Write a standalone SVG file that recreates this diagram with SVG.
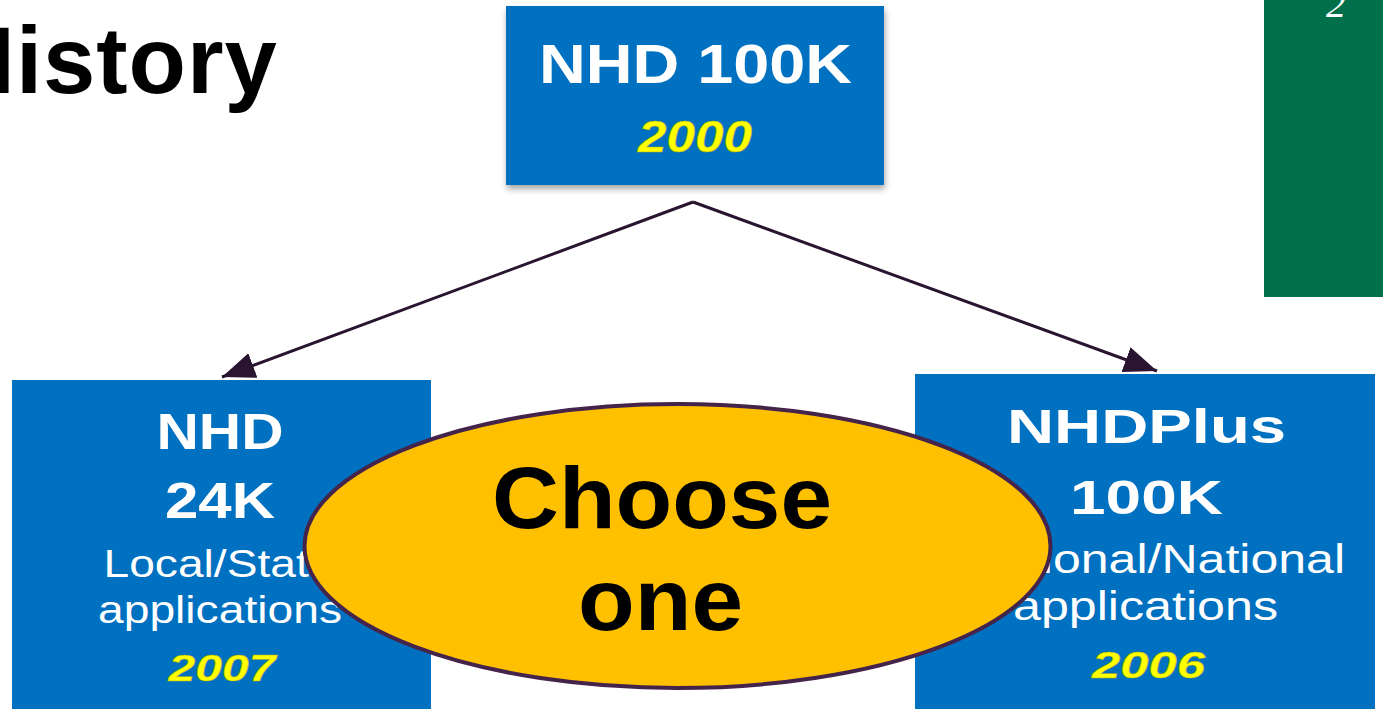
<svg xmlns="http://www.w3.org/2000/svg" width="1383" height="709" viewBox="0 0 1383 709">
<style>
.box{fill:#0070C0;}
.hd{font-family:"Liberation Sans",Arial,sans-serif;font-weight:bold;fill:#FFFFFF;text-anchor:middle;}
.sub{font-family:"Liberation Sans",Arial,sans-serif;fill:#FFFFFF;text-anchor:middle;}
.yr{font-family:"Liberation Sans",Arial,sans-serif;font-weight:bold;font-style:italic;fill:#FFFF00;stroke:#B8B000;stroke-width:0.5;text-anchor:middle;}
.conn{stroke:#2A1530;stroke-width:3;fill:none;}
</style>
<defs>
<marker id="ah" viewBox="0 0 10 8" refX="10" refY="4" markerWidth="11" markerHeight="9" markerUnits="strokeWidth" orient="auto">
<path d="M0,0 L10,4 L0,8 z" fill="#2A1530"/>
</marker>
<filter id="sh" x="-5%" y="-5%" width="112%" height="120%">
<feDropShadow dx="1" dy="4" stdDeviation="3" flood-color="#000" flood-opacity="0.35"/>
</filter>
</defs>
<rect width="1383" height="709" fill="#FFFFFF"/>
<text x="-53" y="93" font-family="Liberation Sans,Arial,sans-serif" font-weight="bold" font-size="94" fill="#000000" letter-spacing="1">History</text>
<g id="page">
<rect x="1264" y="0" width="119" height="297" fill="#00704A"/>
<text x="1336" y="17" font-family="Liberation Serif,serif" font-style="italic" font-size="40" fill="#FFFFFF" text-anchor="middle">2</text>
</g>
<g id="connectors">
<path class="conn" d="M693,202 L222,377" marker-end="url(#ah)"/>
<path class="conn" d="M693,202 L1157,371" marker-end="url(#ah)"/>
</g>
<g id="nhd100k">
<rect class="box" x="506" y="6" width="378" height="179" filter="url(#sh)"/>
<text class="hd" x="695.5" y="83" font-size="56" textLength="313" lengthAdjust="spacingAndGlyphs">NHD 100K</text>
<text class="yr" x="695" y="152" font-size="44" textLength="114" lengthAdjust="spacingAndGlyphs">2000</text>
</g>
<g id="nhd24k">
<rect class="box" x="12" y="380" width="419" height="335"/>
<text class="hd" x="220" y="449" font-size="50" textLength="127" lengthAdjust="spacingAndGlyphs">NHD</text>
<text class="hd" x="220" y="518" font-size="50" textLength="110" lengthAdjust="spacingAndGlyphs">24K</text>
<text class="sub" x="219" y="577" font-size="38" textLength="231" lengthAdjust="spacingAndGlyphs">Local/State</text>
<text class="sub" x="220" y="623" font-size="38" textLength="244" lengthAdjust="spacingAndGlyphs">applications</text>
<text class="yr" x="222" y="681" font-size="37" textLength="107" lengthAdjust="spacingAndGlyphs">2007</text>
</g>
<g id="nhdplus">
<rect class="box" x="915" y="374" width="460" height="341"/>
<text class="hd" x="1146.5" y="443" font-size="49" textLength="279" lengthAdjust="spacingAndGlyphs">NHDPlus</text>
<text class="hd" x="1146.5" y="514" font-size="49" textLength="153" lengthAdjust="spacingAndGlyphs">100K</text>
<text class="sub" x="1147.5" y="573" font-size="40" textLength="395" lengthAdjust="spacingAndGlyphs">Regional/National</text>
<text class="sub" x="1145.5" y="620" font-size="40" textLength="265" lengthAdjust="spacingAndGlyphs">applications</text>
<text class="yr" x="1148.5" y="678" font-size="37" textLength="113" lengthAdjust="spacingAndGlyphs">2006</text>
</g>
<g id="choose">
<ellipse cx="677.5" cy="546" rx="373" ry="142" fill="#FFC000" stroke="#44244A" stroke-width="4"/>
<text x="662" y="528" font-family="Liberation Sans,Arial,sans-serif" font-weight="bold" font-size="88" fill="#000000" text-anchor="middle" textLength="340" lengthAdjust="spacingAndGlyphs">Choose</text>
<text x="660.5" y="630" font-family="Liberation Sans,Arial,sans-serif" font-weight="bold" font-size="88" fill="#000000" text-anchor="middle" textLength="165" lengthAdjust="spacingAndGlyphs">one</text>
</g>
</svg>
